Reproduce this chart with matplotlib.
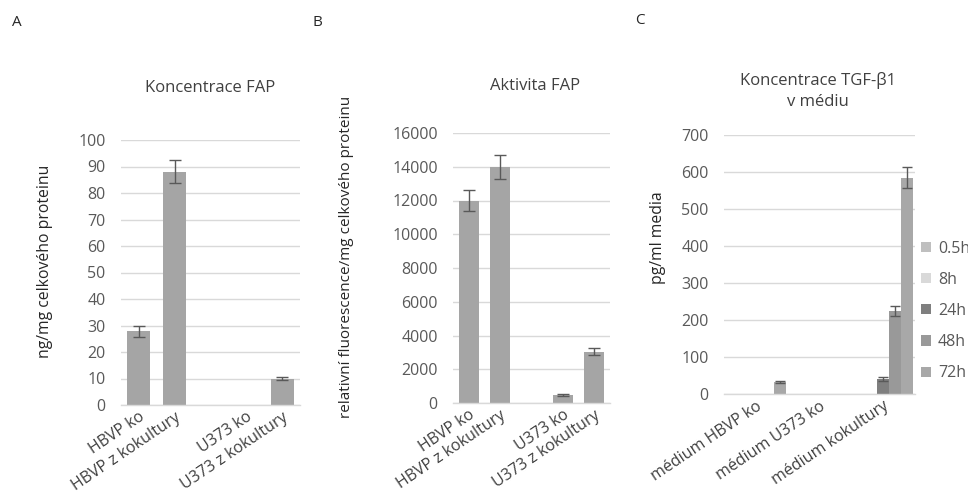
import numpy as np
import matplotlib
matplotlib.use("Agg")
import matplotlib.pyplot as plt
from matplotlib.patches import Patch

plt.rcParams['font.family'] = ['Open Sans', 'DejaVu Sans']

# ---------------- data ----------------
a_categories = ["HBVP ko", "HBVP z kokultury", "", "U373 ko", "U373 z kokultury"]
a_values = [27.8, 88.0, np.nan, 0.0, 10.0]
a_errors = [2.0, 4.3, np.nan, np.nan, 0.5]
a_yticks = [0, 10, 20, 30, 40, 50, 60, 70, 80, 90, 100]

b_categories = ["HBVP ko", "HBVP z kokultury", "", "U373 ko", "U373 z kokultury"]
b_values = [12000, 14000, np.nan, 480, 3050]
b_errors = [600, 700, np.nan, 40, 200]
b_yticks = [0, 2000, 4000, 6000, 8000, 10000, 12000, 14000, 16000]

c_categories = ["médium HBVP ko", "médium U373 ko", "médium kokultury"]
c_series = ["0.5h", "8h", "24h", "48h", "72h"]
c_values = {
    "0.5h": [0, 0, 0],
    "8h":   [0, 0, 0],
    "24h":  [0, 0, 40],
    "48h":  [0, 0, 224],
    "72h":  [33, 0, 585],
}
c_errors = {
    "0.5h": [np.nan, np.nan, np.nan],
    "8h":   [np.nan, np.nan, np.nan],
    "24h":  [np.nan, np.nan, 6],
    "48h":  [np.nan, np.nan, 13],
    "72h":  [3, np.nan, 29],
}
c_yticks = [0, 100, 200, 300, 400, 500, 600, 700]

# ---------------- styles ----------------
W, H = 968, 497
BAR = "#a5a5a5"
GRID = "#d9d9d9"
TICK = "#595959"
TXT = "#404040"
ERR = "#595959"
c_colors = {"0.5h": "#bfbfbf", "8h": "#d9d9d9", "24h": "#7f7f7f",
            "48h": "#999999", "72h": "#a8a8a8"}
FS_TICK = 11.5
FS_TITLE = 12

fig = plt.figure(figsize=(W / 100, H / 100), dpi=100)


def px_axes(x0, x1, ytop, ybot):
    return fig.add_axes([x0 / W, (H - ybot) / H, (x1 - x0) / W, (ybot - ytop) / H])


def style(ax, yticks, labels, fs=FS_TICK):
    ax.set_ylim(yticks[0], yticks[-1])
    ax.set_yticks(yticks)
    ax.set_yticklabels([str(t) for t in yticks], color=TICK, fontsize=fs)
    ax.tick_params(axis='y', length=0, pad=11)
    ax.tick_params(axis='x', length=0, pad=3)
    for s in ['top', 'right', 'left']:
        ax.spines[s].set_visible(False)
    ax.spines['bottom'].set_color(GRID)
    ax.spines['bottom'].set_linewidth(1.0)
    ax.grid(axis='y', color=GRID, linewidth=1.0)
    ax.set_axisbelow(True)
    ax.set_xticks(range(len(labels)))
    ax.set_xticklabels(labels, rotation=34, ha='right', rotation_mode='anchor',
                       color=TXT, fontsize=fs)


# ---------- Panel A ----------
axA = px_axes(121, 300, 140, 405)
xa = np.arange(len(a_categories))
axA.bar(xa, a_values, width=0.64, color=BAR)
axA.errorbar(xa, a_values, yerr=a_errors, fmt='none', ecolor=ERR, elinewidth=1,
             capsize=4, capthick=1)
axA.set_xlim(-0.5, len(a_categories) - 0.5)
style(axA, a_yticks, a_categories)

# ---------- Panel B ----------
axB = px_axes(453, 610, 133, 403)
xb = np.arange(len(b_categories))
axB.bar(xb, b_values, width=0.63, color=BAR)
axB.errorbar(xb, b_values, yerr=b_errors, fmt='none', ecolor=ERR, elinewidth=1,
             capsize=4, capthick=1)
axB.set_xlim(-0.5, len(b_categories) - 0.5)
style(axB, b_yticks, b_categories)

# ---------- Panel C ----------
axC = px_axes(724, 915, 135, 394)
xc = np.arange(len(c_categories))
bw = 0.19
handles = []
for i, s in enumerate(c_series):
    pos = xc + (i - 2) * bw
    axC.bar(pos, c_values[s], width=bw, color=c_colors[s])
    axC.errorbar(pos, c_values[s], yerr=c_errors[s], fmt='none', ecolor=ERR,
                 elinewidth=1, capsize=3.5, capthick=1)
    handles.append(Patch(facecolor=c_colors[s], label=s))
axC.set_xlim(-0.5, len(c_categories) - 0.5)
style(axC, c_yticks, c_categories)

fig.legend(handles=handles, loc='center left',
           bbox_to_anchor=(921 / W, 1 - 311 / H), frameon=False,
           handlelength=0.6, handleheight=0.6, handletextpad=0.45,
           labelspacing=0.95, borderpad=0, borderaxespad=0,
           prop={'size': FS_TICK}, labelcolor=TICK)

# ---------- titles and labels ----------
fig.text(210 / W, 1 - 88 / H, "Koncentrace FAP", ha='center', va='center',
         fontsize=FS_TITLE, color=TXT)
fig.text(535 / W, 1 - 86 / H, "Aktivita FAP", ha='center', va='center',
         fontsize=FS_TITLE, color=TXT)
fig.text(818 / W, 1 - 91 / H, "Koncentrace TGF-β1\nv médiu", ha='center',
         va='center', fontsize=FS_TITLE, color=TXT, linespacing=1.35)

fig.text(45 / W, 1 - 261 / H, "ng/mg celkového proteinu", rotation=90,
         ha='center', va='center', fontsize=11.3, color='#262626')
fig.text(347 / W, 1 - 257 / H, "relativní fluorescence/mg celkového proteinu",
         rotation=90, ha='center', va='center', fontsize=11, color='#262626')
fig.text(658 / W, 1 - 238 / H, "pg/ml media", rotation=90, ha='center',
         va='center', fontsize=11.3, color='#262626')

fig.text(17 / W, 1 - 22 / H, "A", ha='center', va='center', fontsize=11, color='#262626')
fig.text(317 / W, 1 - 22 / H, "B", ha='center', va='center', fontsize=11, color='#262626')
fig.text(640 / W, 1 - 20 / H, "C", ha='center', va='center', fontsize=11, color='#262626')

fig.savefig("out.png", dpi=100, facecolor='white')
